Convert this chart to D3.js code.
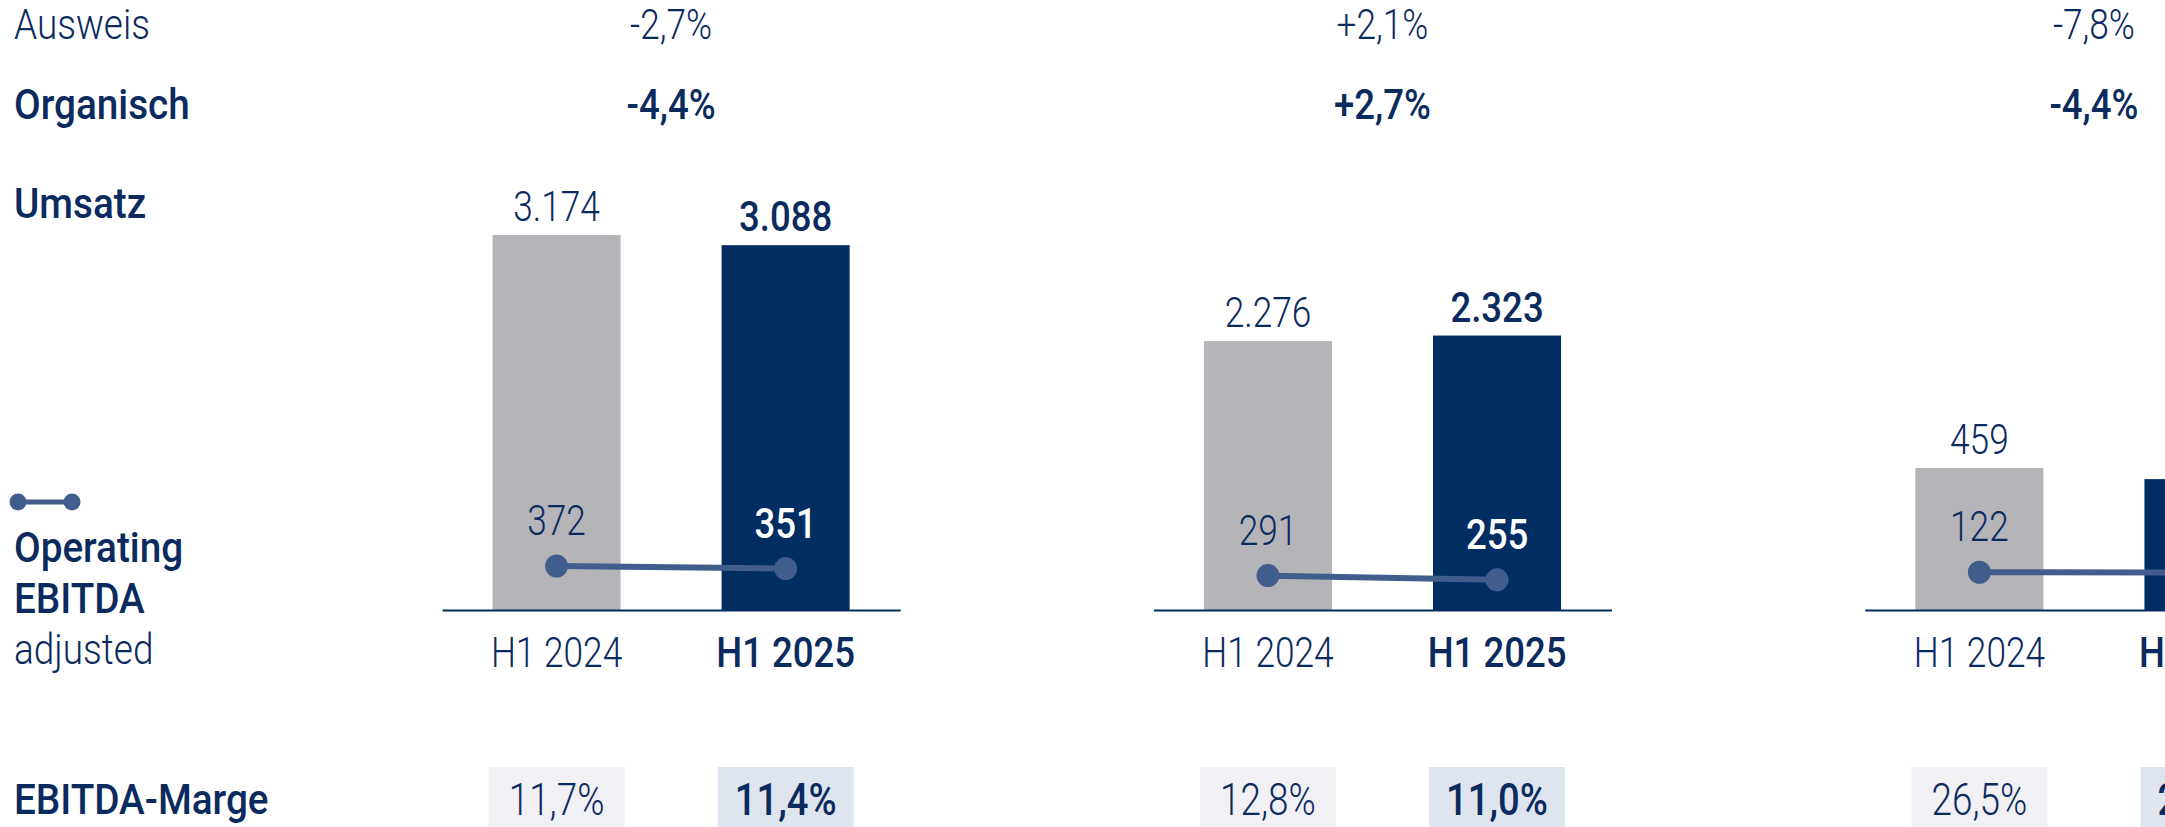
<!DOCTYPE html>
<html>
<head>
<meta charset="utf-8">
<script src="https://cdn.jsdelivr.net/npm/d3@7"></script>
<style>
  body { margin: 0; background: #fff; }
  svg text { font-family: Roboto, "Open Sans", sans-serif; }
</style>
</head>
<body>
<div id="chart"></div>
<script>
// data
var periods = ["H1 2024", "H1 2025"];
var segments = ["seg1", "seg2", "seg3"];
var ausweis = [-2.7, 2.1, -7.8];
var organisch = [-4.4, 2.7, -4.4];
var umsatz = [[3174, 3088], [2276, 2323], [459, 423]];
var ebitda = [[372, 351], [291, 255], [122, 121]];
var marge = [[11.7, 11.4], [12.8, 11.0], [26.5, 28.6]];

var width = 2165, height = 827;
var navy = "#002d62", grey = "#b5b5b9", ink = "#0b2b5e", lineCol = "#415d8c";
var boxCol = ["#f0f0f5", "#dfe5ee"];
var boldW = 500;

var de = d3.formatLocale({ decimal: ",", thousands: ".", grouping: [3], currency: ["", " €"], minus: "-" });
var fmtInt = de.format(",.0f"), fmtPct = de.format(".1f"), fmtChg = de.format("+.1f");

var svg = d3.select("#chart").append("svg")
  .attr("width", width)
  .attr("height", height);

// text helper: the original face is narrow, so squeeze horizontally
function txt(sel, x, y, s, o) {
  o = o || {};
  var sx = o.sx || (o.bold ? 0.85 : 0.82);
  return sel.append("text")
    .attr("transform", "translate(" + x + "," + y + ") scale(" + sx + ",1)")
    .attr("text-anchor", o.anchor || "start")
    .attr("font-size", (o.size || 43) + "px")
    .attr("font-weight", o.bold ? boldW : 300)
    .attr("fill", o.fill || ink)
    .text(s);
}

// left labels
txt(svg, 14, 39, "Ausweis", { sx: 0.86 });
txt(svg, 14, 119, "Organisch", { bold: true, sx: 0.9 });
txt(svg, 14, 218, "Umsatz", { bold: true, sx: 0.9 });

var legend = svg.append("g");
legend.append("line").attr("x1", 18).attr("x2", 72).attr("y1", 502).attr("y2", 502)
  .attr("stroke", lineCol).attr("stroke-width", 5);
legend.selectAll("circle").data([18, 72]).enter().append("circle")
  .attr("cx", function (d) { return d; }).attr("cy", 502).attr("r", 8.5).attr("fill", lineCol);

txt(svg, 14, 562, "Operating", { bold: true, sx: 0.9 });
txt(svg, 14, 613, "EBITDA", { bold: true, sx: 0.9 });
txt(svg, 14, 664, "adjusted", { sx: 0.86 });
txt(svg, 14, 814, "EBITDA-Marge", { bold: true, sx: 0.9 });

// panels
var xPanel = d3.scaleBand().domain(segments).range([442, 2323]).paddingInner(0.356);
var pw = xPanel.bandwidth();
var xBar = d3.scaleBand().domain(periods).range([0, pw]).paddingInner(0.441).paddingOuter(0.2205);
var bw = xBar.bandwidth();
var panelMax = [3174, 3174, 1212];
var base = 610;

segments.forEach(function (seg, i) {
  var g = svg.append("g").attr("transform", "translate(" + xPanel(seg) + ",0)");
  var y = d3.scaleLinear().domain([0, panelMax[i]]).range([base, 235]);

  txt(g, pw / 2, 39, fmtChg(ausweis[i]) + "%", { anchor: "middle" });
  txt(g, pw / 2, 119, fmtChg(organisch[i]) + "%", { anchor: "middle", bold: true });

  var rows = periods.map(function (p, j) {
    return { p: p, j: j, u: umsatz[i][j], e: ebitda[i][j], m: marge[i][j] };
  });

  g.selectAll("rect.bar").data(rows).enter().append("rect")
    .attr("class", "bar")
    .attr("x", function (d) { return xBar(d.p); })
    .attr("y", function (d) { return y(d.u); })
    .attr("width", bw)
    .attr("height", function (d) { return base - y(d.u); })
    .attr("fill", function (d) { return d.j ? navy : grey; });

  rows.forEach(function (d) {
    var cx = xBar(d.p) + bw / 2;
    txt(g, cx, y(d.u) - 14, fmtInt(d.u), { anchor: "middle", bold: d.j === 1 });
  });

  // axis with category labels
  var ax = g.append("g")
    .attr("transform", "translate(0," + base + ")")
    .call(d3.axisBottom(xBar).tickSize(0));
  ax.select(".domain").attr("stroke", navy).attr("stroke-width", 2);
  ax.selectAll(".tick text")
    .attr("y", 57).attr("dy", null)
    .attr("transform", function (d, j) { return "scale(" + (j ? 0.85 : 0.82) + ",1)"; })
    .attr("font-family", null)
    .attr("font-size", "43px")
    .attr("font-weight", function (d, j) { return j ? boldW : 300; })
    .attr("fill", ink);

  // ebitda line
  var line = d3.line()
    .x(function (d) { return xBar(d.p) + bw / 2; })
    .y(function (d) { return y(d.e); });
  g.append("path").datum(rows).attr("d", line)
    .attr("fill", "none").attr("stroke", lineCol).attr("stroke-width", 6);
  g.selectAll("circle").data(rows).enter().append("circle")
    .attr("cx", function (d) { return xBar(d.p) + bw / 2; })
    .attr("cy", function (d) { return y(d.e); })
    .attr("r", 11.5)
    .attr("fill", lineCol);
  rows.forEach(function (d) {
    txt(g, xBar(d.p) + bw / 2, y(d.e) - 31, fmtInt(d.e),
      { anchor: "middle", bold: d.j === 1, fill: d.j ? "#fff" : ink });
  });

  // margin boxes
  rows.forEach(function (d) {
    var cx = xBar(d.p) + bw / 2;
    g.append("rect").attr("x", cx - 68).attr("y", 767).attr("width", 136).attr("height", 70)
      .attr("fill", boxCol[d.j]);
    txt(g, cx, 815, fmtPct(d.m) + "%", { anchor: "middle", bold: d.j === 1, size: 45 });
  });
});
</script>
</body>
</html>
